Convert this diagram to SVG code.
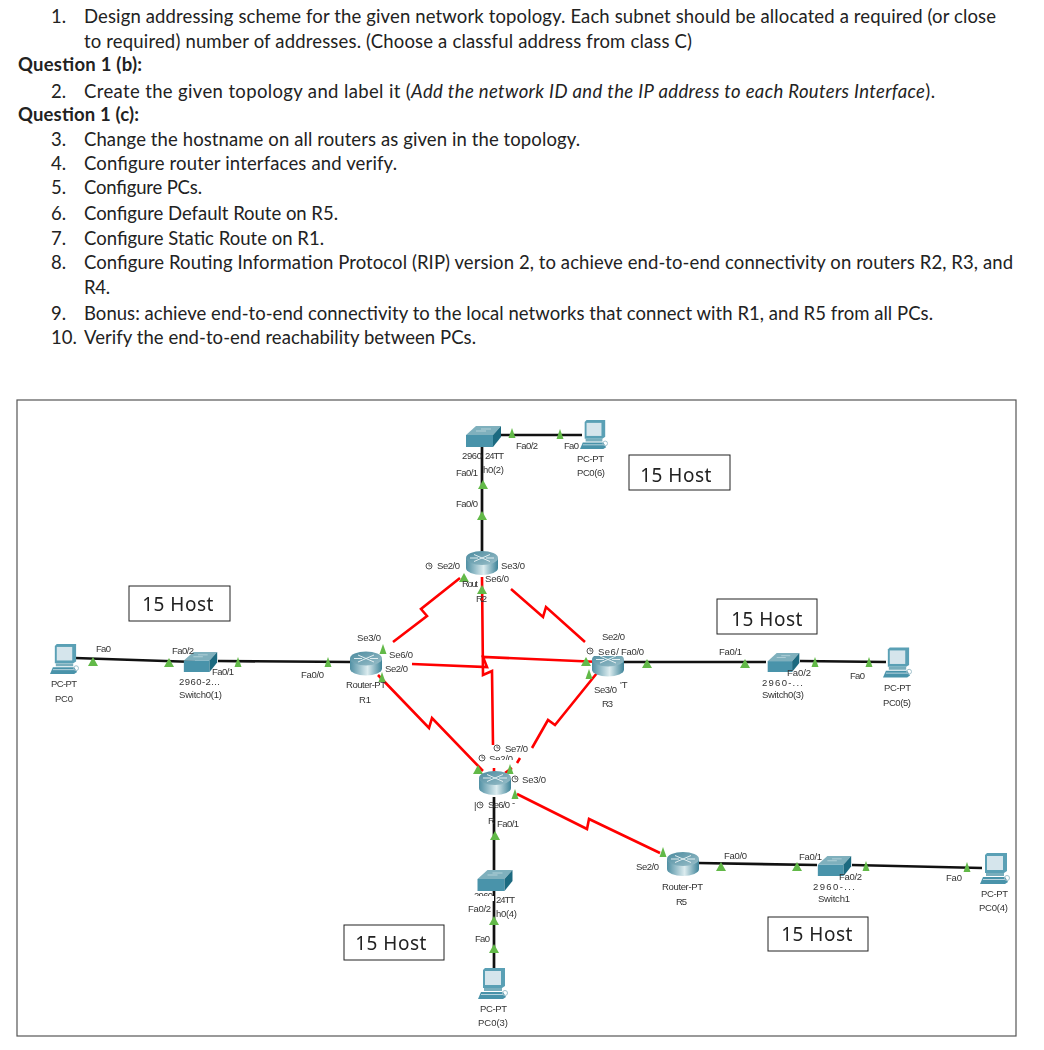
<svg xmlns="http://www.w3.org/2000/svg" width="1044" height="1050" viewBox="0 0 1044 1050">
<style>
.d{font-family:Lato,"Liberation Sans",sans-serif;font-size:18.5px;fill:#222}
.b{font-weight:700}
.i{font-style:italic}
.l{font-family:"Liberation Sans",Arial,sans-serif;font-size:9.5px;fill:#333}
.h{font-family:"Noto Sans","Open Sans",sans-serif;font-size:19px;fill:#222;letter-spacing:.5px}
.box{fill:#fff;stroke:#222;stroke-width:1}
.red{fill:none;stroke:#f00;stroke-width:2.6}
.blk{fill:none;stroke:#111;stroke-width:2.7}
.g{fill:#62b948}
.w{fill:#fff}
</style>
<defs>
<filter id="soft" x="-5%" y="-5%" width="110%" height="110%"><feGaussianBlur stdDeviation=".35"/></filter>
<linearGradient id="rg" x1="0" y1="0" x2="1" y2="0"><stop offset="0" stop-color="#4f8fa3"/><stop offset=".55" stop-color="#dcecef"/><stop offset="1" stop-color="#3e8398"/></linearGradient>
<linearGradient id="rt" x1="0" y1="0" x2="1" y2="1"><stop offset="0" stop-color="#4a8a9e"/><stop offset="1" stop-color="#9cc0ca"/></linearGradient>
<symbol id="router" viewBox="0 0 32 24"><path d="M0 7V17A16 7 0 0 0 32 17V7Z" fill="url(#rg)"/><ellipse cx="16" cy="7" rx="16" ry="7" fill="url(#rt)"/><path d="M8 3.500 24 10.500M24 3.500 8 10.500M4 7H12M20 7H28" stroke="#eef6f7" stroke-width=".9" fill="none"/></symbol>
<symbol id="switch" viewBox="0 0 35 21"><path d="M0 9 10 0H35L27 9Z" fill="#7fb0bd"/><path d="M0 9H27V21H0Z" fill="#4a93aa"/><path d="M27 9 35 0V11L27 21Z" fill="#1f6a80"/><path d="M10 5H20M15 3H25" stroke="#c0dae0" stroke-width=".8"/></symbol>
<symbol id="pc" viewBox="0 0 30 32"><path d="M5 2 7 0H27V18L24 20H5Z" fill="#5aa0b5"/><path d="M7 3H23V17H7Z" fill="#d5e5ec"/><path d="M6 20H24V23H6Z" fill="#78aebd"/><path d="M3 24H25L28 29 25 31H0Z" fill="#4a93aa"/><path d="M3 26.500H25" stroke="#d5e5ec" stroke-width=".8"/><circle cx="27" cy="25" r="2.500" fill="none" stroke="#9fc0ca"/></symbol>
<path id="tri" d="M0-5 5 4H-5Z"/>
<path id="trn" d="M0-6 3.500 4H-3.500Z"/>
<g id="clk"><circle r="3" fill="#fff" stroke="#444" stroke-width=".9"/><path d="M0-2V0H2" stroke="#444" stroke-width=".7" fill="none"/></g>
</defs>
<rect width="1044" height="1050" fill="#fff"/>
<g id="instructions">
<text class="d" x="51" y="23">1.</text><text class="d" x="84" y="23" textLength="912">Design addressing scheme for the given network topology. Each subnet should be allocated a required (or close</text>
<text class="d" x="84" y="48" textLength="608">to required) number of addresses. (Choose a classful address from class C)</text>
<text class="d b" x="18" y="71" textLength="124">Question 1 (b):</text>
<text class="d" x="51" y="98">2.</text><text class="d" x="84" y="98" textLength="851">Create the given topology and label it (<tspan class="i">Add the network ID and the IP address to each Routers Interface</tspan>).</text>
<text class="d b" x="18" y="121" textLength="121">Question 1 (c):</text>
<text class="d" x="51" y="146">3.</text><text class="d" x="84" y="146" textLength="496">Change the hostname on all routers as given in the topology.</text>
<text class="d" x="51" y="170">4.</text><text class="d" x="84" y="170" textLength="313">Configure router interfaces and verify.</text>
<text class="d" x="51" y="194">5.</text><text class="d" x="84" y="194" textLength="118">Configure PCs.</text>
<text class="d" x="51" y="220">6.</text><text class="d" x="84" y="220" textLength="254">Configure Default Route on R5.</text>
<text class="d" x="51" y="245">7.</text><text class="d" x="84" y="245" textLength="240">Configure Static Route on R1.</text>
<text class="d" x="51" y="269">8.</text><text class="d" x="84" y="269" textLength="929">Configure Routing Information Protocol (RIP) version 2, to achieve end-to-end connectivity on routers R2, R3, and</text>
<text class="d" x="84" y="294" textLength="26">R4.</text>
<text class="d" x="51" y="320">9.</text><text class="d" x="84" y="320" textLength="849">Bonus: achieve end-to-end connectivity to the local networks that connect with R1, and R5 from all PCs.</text>
<text class="d" x="51" y="344">10.</text><text class="d" x="84" y="344" textLength="392">Verify the end-to-end reachability between PCs.</text>
</g>
<rect id="frame" x="17" y="400" width="999" height="636" fill="#fff" stroke="#555" stroke-width="1.200"/>
<g id="connectors">
<path class="blk" d="M75 658 195 662M218 661 352 662"/>
<path class="blk" d="M620 662H766M800 661 886 662"/>
<path class="blk" d="M698 863 817 865M852 865 982 868"/>
<path class="blk" d="M500 435H582"/>
<path class="blk" d="M482 447V552"/>
<path class="blk" d="M494 797V870M494 891V968"/>
<path class="red" d="M460 578 421 609 427 616 393 642"/>
<path class="red" d="M511 589 543 617 546 607 585 642"/>
<path class="red" d="M482 577 483 675 492 671 493 745"/>
<path class="red" d="M412 664 487 667 483 657 600 662"/>
<path class="red" d="M378 675 429 728 432 718 483 771"/>
<path class="red" d="M597 673 555 725 548 720 532 748M520 758 517 763M512 768 505 773"/>
<path class="red" d="M494 768V772"/>
<path class="red" d="M517 794 587 829 589 819 660 853"/>
</g>
<g id="port-markers" class="g">
<use href="#trn" x="512" y="434"/><use href="#trn" x="560" y="435"/><use href="#tri" x="483" y="485"/><use href="#tri" x="482" y="516"/>
<use href="#tri" x="464" y="578"/><use href="#tri" x="482" y="590"/><use href="#trn" x="383" y="650"/><use href="#trn" x="382" y="678"/>
<use href="#tri" x="586" y="662"/><use href="#tri" x="647" y="664"/><use href="#trn" x="589" y="675"/>
<use href="#tri" x="478" y="770"/><use href="#trn" x="510" y="770"/><use href="#trn" x="515" y="795"/><use href="#tri" x="495" y="836"/>
<use href="#tri" x="494" y="921"/><use href="#tri" x="494" y="949"/><use href="#trn" x="663" y="853"/>
<use href="#tri" x="93" y="662"/><use href="#tri" x="169" y="663"/><use href="#trn" x="238" y="663"/><use href="#trn" x="328" y="663"/>
<use href="#tri" x="745" y="664"/><use href="#trn" x="815" y="663"/><use href="#trn" x="869" y="663"/>
<use href="#tri" x="721" y="867"/><use href="#tri" x="797" y="867"/><use href="#trn" x="866" y="867"/><use href="#trn" x="967" y="868"/>
</g>
<g filter="url(#soft)">
<g id="R2"><use href="#router" x="466" y="551" width="32" height="24"/><use href="#clk" x="429" y="566"/>
<text class="l" x="437" y="569" textLength="23">Se2/0</text><text class="l" x="501" y="569" textLength="24">Se3/0</text><text class="l" x="485" y="582" textLength="24">Se6/0</text><text class="l" x="462" y="587" textLength="16">Rout</text><text class="l" x="476" y="602" textLength="11">R2</text></g>
<g id="R1"><use href="#router" x="350" y="650" width="32" height="27"/>
<text class="l" x="357" y="641" textLength="24">Se3/0</text><text class="l" x="389" y="658" textLength="24">Se6/0</text><text class="l" x="385" y="672" textLength="23">Se2/0</text><text class="l" x="346" y="688" textLength="40">Router-PT</text><text class="l" x="359" y="703" textLength="12">R1</text></g>
<g id="R3"><use href="#router" x="592" y="652" width="32" height="25"/><rect class="w" x="590" y="632" width="36" height="8"/><rect class="w" x="586" y="645" width="60" height="11"/>
<text class="l" x="602" y="640" textLength="23">Se2/0</text><use href="#clk" x="590" y="651"/><text class="l" x="598" y="655" textLength="21">Se6/</text><text class="l" x="621" y="655" textLength="23">Fa0/0</text>
<text class="l" x="602" y="707" textLength="11">R3</text><rect class="w" x="592" y="683" width="38" height="17"/><text class="l" x="594" y="693" textLength="23">Se3/0</text><text class="l" x="620" y="688">'T</text></g>
<g id="R4"><use href="#router" x="479" y="771" width="32" height="24"/><use href="#clk" x="497" y="748"/><use href="#clk" x="482" y="758"/><use href="#clk" x="515" y="779"/><use href="#clk" x="480" y="805"/>
<text class="l" x="505" y="752" textLength="23">Se7/0</text><text class="l" x="489" y="762" textLength="24">Se2/0</text><rect class="w" x="489" y="760" width="26" height="4"/><text class="l" x="522" y="783" textLength="24">Se3/0</text><text class="l" x="474" y="809">|</text><text class="l" x="488" y="808" textLength="22">Se6/0</text><text class="l" x="512" y="806">-</text><text class="l" x="488" y="824" textLength="6">R</text><text class="l" x="497" y="827" textLength="22">Fa0/1</text></g>
<g id="R5"><use href="#router" x="667" y="852" width="32" height="24"/>
<text class="l" x="636" y="870" textLength="23">Se2/0</text><text class="l" x="662" y="890" textLength="41">Router-PT</text><text class="l" x="676" y="905" textLength="11">R5</text><text class="l" x="724" y="859" textLength="23">Fa0/0</text></g>
<g id="Switch0-2"><use href="#switch" x="466" y="426" width="35" height="21"/>
<text class="l" x="462" y="459" textLength="20">2960</text><text class="l" x="485" y="459" textLength="19">24TT</text><text class="l" x="483" y="473" textLength="21">h0(2)</text><text class="l" x="456" y="476" textLength="22">Fa0/1</text><text class="l" x="456" y="507" textLength="22">Fa0/0</text><text class="l" x="516" y="449" textLength="22">Fa0/2</text></g>
<g id="PC0-6"><use href="#pc" x="580" y="419" width="28" height="32"/>
<text class="l" x="564" y="449" textLength="15">Fa0</text><text class="l" x="577" y="462" textLength="27">PC-PT</text><text class="l" x="577" y="476" textLength="28">PC0(6)</text></g>
<g id="Switch0-1"><use href="#switch" x="183" y="652" width="35" height="20"/>
<text class="l" x="172" y="654" textLength="22">Fa0/2</text><text class="l" x="212" y="675" textLength="22">Fa0/1</text><text class="l" x="179" y="685" textLength="41">2960-2...</text><text class="l" x="179" y="698" textLength="43">Switch0(1)</text></g>
<g id="PC0"><use href="#pc" x="50" y="644" width="29" height="31"/>
<text class="l" x="96" y="652" textLength="15">Fa0</text><text class="l" x="51" y="687" textLength="26">PC-PT</text><text class="l" x="55" y="702" textLength="18">PC0</text><text class="l" x="301" y="678" textLength="23">Fa0/0</text></g>
<g id="Switch0-3"><use href="#switch" x="766" y="653" width="35" height="19"/>
<text class="l" x="719" y="655" textLength="23">Fa0/1</text><text class="l" x="787" y="676" textLength="24">Fa0/2</text><text class="l" x="762" y="686" textLength="41">2960-...</text><text class="l" x="762" y="698" textLength="42">Switch0(3)</text></g>
<g id="PC0-5"><use href="#pc" x="883" y="647" width="29" height="32"/>
<text class="l" x="850" y="679" textLength="15">Fa0</text><text class="l" x="884" y="691" textLength="27">PC-PT</text><text class="l" x="883" y="706" textLength="28">PC0(5)</text></g>
<g id="Switch1"><use href="#switch" x="817" y="856" width="35" height="20"/>
<text class="l" x="799" y="860" textLength="23">Fa0/1</text><text class="l" x="839" y="880" textLength="23">Fa0/2</text><text class="l" x="813" y="890" textLength="42">2960-...</text><text class="l" x="818" y="902" textLength="32">Switch1</text></g>
<g id="PC0-4"><use href="#pc" x="980" y="853" width="30" height="32"/>
<text class="l" x="946" y="881" textLength="16">Fa0</text><text class="l" x="981" y="897" textLength="27">PC-PT</text><text class="l" x="979" y="911" textLength="29">PC0(4)</text></g>
<g id="Switch0-4"><use href="#switch" x="477" y="870" width="36" height="21"/>
<text class="l" x="474" y="899" textLength="19">2960</text><rect class="w" x="473" y="896" width="21" height="5"/><text class="l" x="496" y="903" textLength="19">24TT</text><text class="l" x="468" y="912" textLength="23">Fa0/2</text><text class="l" x="496" y="917" textLength="21">h0(4)</text></g>
<g id="PC0-3"><use href="#pc" x="478" y="968" width="30" height="32"/>
<text class="l" x="475" y="942" textLength="15">Fa0</text><text class="l" x="480" y="1012" textLength="27">PC-PT</text><text class="l" x="478" y="1026" textLength="30">PC0(3)</text></g>
</g>
<g id="host-boxes">
<rect class="box" x="129" y="586" width="101" height="35"/><text class="h" x="178" y="611" text-anchor="middle">15 Host</text>
<rect class="box" x="717" y="599" width="100" height="35"/><text class="h" x="767" y="626" text-anchor="middle">15 Host</text>
<rect class="box" x="629" y="455" width="101" height="35"/><text class="h" x="676" y="482" text-anchor="middle">15 Host</text>
<rect class="box" x="344" y="925" width="100" height="35"/><text class="h" x="391" y="950" text-anchor="middle">15 Host</text>
<rect class="box" x="768" y="917" width="100" height="34"/><text class="h" x="817" y="941" text-anchor="middle">15 Host</text>
</g>
</svg>
